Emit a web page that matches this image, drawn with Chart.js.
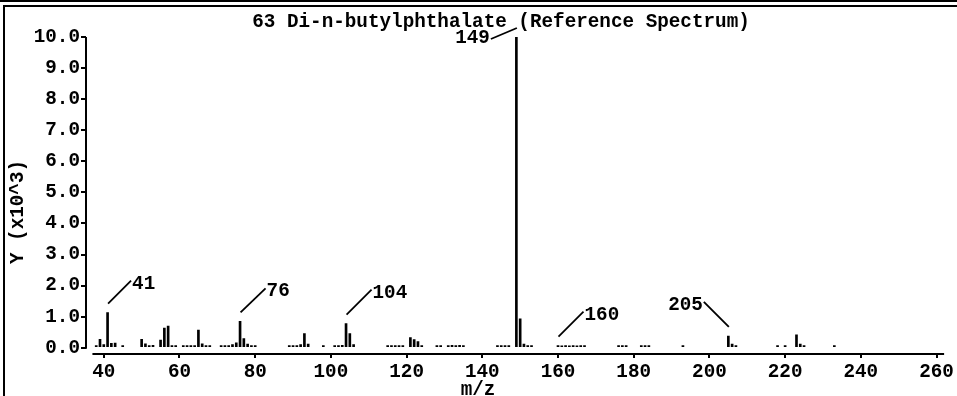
<!DOCTYPE html>
<html>
<head>
<meta charset="utf-8">
<script src="https://cdn.jsdelivr.net/npm/chart.js@4.4.0/dist/chart.umd.min.js"></script>
<style>
  html, body { margin: 0; padding: 0; background: #fff; }
</style>
</head>
<body>
<canvas id="spectrum" width="957" height="396"></canvas>
<script>
// m/z values and abundance (x10^3)
const massToCharge = [
  38, 39, 40, 41, 42, 43, 45,
  50, 51, 52, 53, 55, 56, 57, 58, 59,
  61, 62, 63, 64, 65, 66, 67, 68,
  71, 72, 73, 74, 75, 76, 77, 78, 79, 80,
  89, 90, 91, 92, 93, 94,
  98, 101, 102, 103, 104, 105, 106,
  115, 116, 117, 118, 119, 121, 122, 123, 124,
  128, 129, 131, 132, 133, 134, 135,
  144, 145, 146, 147, 149, 150, 151, 152, 153,
  160, 161, 162, 163, 164, 165, 166, 167,
  176, 177, 178, 182, 183, 184, 193,
  205, 206, 207,
  218, 220, 223, 224, 225, 233
];
const abundance = [
  0.07, 0.27, 0.10, 1.13, 0.14, 0.15, 0.07,
  0.27, 0.13, 0.07, 0.08, 0.25, 0.63, 0.70, 0.07, 0.07,
  0.07, 0.07, 0.07, 0.07, 0.57, 0.13, 0.07, 0.07,
  0.07, 0.07, 0.07, 0.10, 0.16, 0.85, 0.30, 0.12, 0.07, 0.07,
  0.07, 0.07, 0.07, 0.10, 0.46, 0.12,
  0.07, 0.07, 0.07, 0.08, 0.78, 0.46, 0.10,
  0.07, 0.07, 0.07, 0.07, 0.07, 0.33, 0.26, 0.20, 0.07,
  0.07, 0.07, 0.07, 0.08, 0.07, 0.08, 0.07,
  0.07, 0.07, 0.07, 0.07, 10.0, 0.93, 0.12, 0.07, 0.07,
  0.07, 0.06, 0.07, 0.06, 0.07, 0.06, 0.07, 0.07,
  0.07, 0.07, 0.07, 0.07, 0.07, 0.07, 0.07,
  0.38, 0.12, 0.07,
  0.07, 0.07, 0.42, 0.12, 0.07, 0.07
];
const labelledPeaks = [41, 76, 104, 149, 160, 205];
const xTickValues = [40, 60, 80, 100, 120, 140, 160, 180, 200, 220, 240, 260];
const yTickValues = [0, 1, 2, 3, 4, 5, 6, 7, 8, 9, 10];
const chartTitle = '63 Di-n-butylphthalate (Reference Spectrum)';
const xTitle = 'm/z';
const yTitle = 'Y (x10^3)';

const monoFont = '"Liberation Mono", "DejaVu Sans Mono", monospace';
const fontSize = 19.3;

// leader line for each peak label: offset from peak top, text on the far end
const leaders = {
  41:  { dx: 23,  dy: -23 },
  76:  { dx: 25,  dy: -24 },
  104: { dx: 25,  dy: -25 },
  149: { dx: -26, dy: 11, base: 4 },
  160: { dx: 25,  dy: -25 },
  205: { dx: -25, dy: -25 }
};

const decorations = {
  id: 'decorations',
  afterDraw(chart) {
    const ctx = chart.ctx;
    const xs = chart.scales.x;
    const ys = chart.scales.y;
    const area = chart.chartArea;
    ctx.save();
    ctx.fillStyle = '#000';
    ctx.strokeStyle = '#000';

    // window frame
    ctx.fillRect(0, 0, chart.width, 2);
    ctx.fillRect(3, 5, chart.width - 3, 2);
    ctx.fillRect(3, 5, 2, chart.height - 5);

    // detached axis lines
    ctx.lineWidth = 2;
    ctx.beginPath();
    ctx.moveTo(xs.getPixelForValue(37), area.bottom);
    ctx.lineTo(xs.getPixelForValue(262), area.bottom);
    ctx.moveTo(area.left, ys.getPixelForValue(10));
    ctx.lineTo(area.left, ys.getPixelForValue(0) + 1);
    ctx.stroke();

    ctx.font = 'bold ' + fontSize + 'px ' + monoFont;
    ctx.textBaseline = 'alphabetic';

    ctx.textAlign = 'center';
    ctx.fillText(chartTitle, 501, 27);
    ctx.fillText(xTitle, 478, 395);

    ctx.save();
    ctx.translate(23, 212);
    ctx.rotate(-Math.PI / 2);
    ctx.fillText(yTitle, 0, 0);
    ctx.restore();

    // peak labels
    ctx.lineWidth = 1.8;
    labelledPeaks.forEach(mz => {
      const i = massToCharge.indexOf(mz);
      const l = leaders[mz];
      const px = xs.getPixelForValue(mz) + 0.5;
      const top = ys.getPixelForValue(abundance[i]);
      const sx = px, sy = top - 9;
      const ex = sx + l.dx, ey = sy + l.dy;
      ctx.beginPath();
      ctx.moveTo(sx, sy);
      ctx.lineTo(ex, ey);
      ctx.stroke();
      ctx.textAlign = l.dx > 0 ? 'left' : 'right';
      ctx.fillText(String(mz), l.dx > 0 ? ex + 1 : ex - 1, ey + (l.base !== undefined ? l.base : 8));
    });
    ctx.restore();
  }
};

Chart.defaults.font.family = monoFont;
Chart.defaults.font.size = fontSize;
Chart.defaults.font.weight = 'bold';
Chart.defaults.color = '#000';

new Chart(document.getElementById('spectrum'), {
  type: 'bar',
  data: {
    datasets: [{
      data: massToCharge.map((m, i) => ({ x: m, y: abundance[i] })),
      backgroundColor: '#000',
      borderWidth: 0,
      barThickness: 2
    }]
  },
  options: {
    responsive: false,
    animation: false,
    layout: { padding: { top: 37, right: 13, left: 0, bottom: 0 } },
    plugins: {
      legend: { display: false },
      tooltip: { enabled: false },
      title: { display: false }
    },
    scales: {
      x: {
        type: 'linear',
        offset: false,
        min: 35.3,
        max: 261.9,
        afterFit(scale) { scale.height = 42; },
        afterBuildTicks(scale) { scale.ticks = xTickValues.map(v => ({ value: v })); },
        grid: { offset: false, drawOnChartArea: false, drawTicks: true, tickLength: 4, color: '#000', lineWidth: 2 },
        border: { display: false },
        ticks: { padding: 3, maxRotation: 0, autoSkip: false, color: '#000' }
      },
      y: {
        min: -0.2,
        max: 10,
        afterFit(scale) { scale.width = 86; },
        afterBuildTicks(scale) { scale.ticks = yTickValues.map(v => ({ value: v })); },
        grid: { drawOnChartArea: false, drawTicks: true, tickLength: 5, color: '#000', lineWidth: 2 },
        border: { display: false },
        ticks: { padding: 1, color: '#000', callback: v => v.toFixed(1) }
      }
    }
  },
  plugins: [decorations]
});
</script>
</body>
</html>
